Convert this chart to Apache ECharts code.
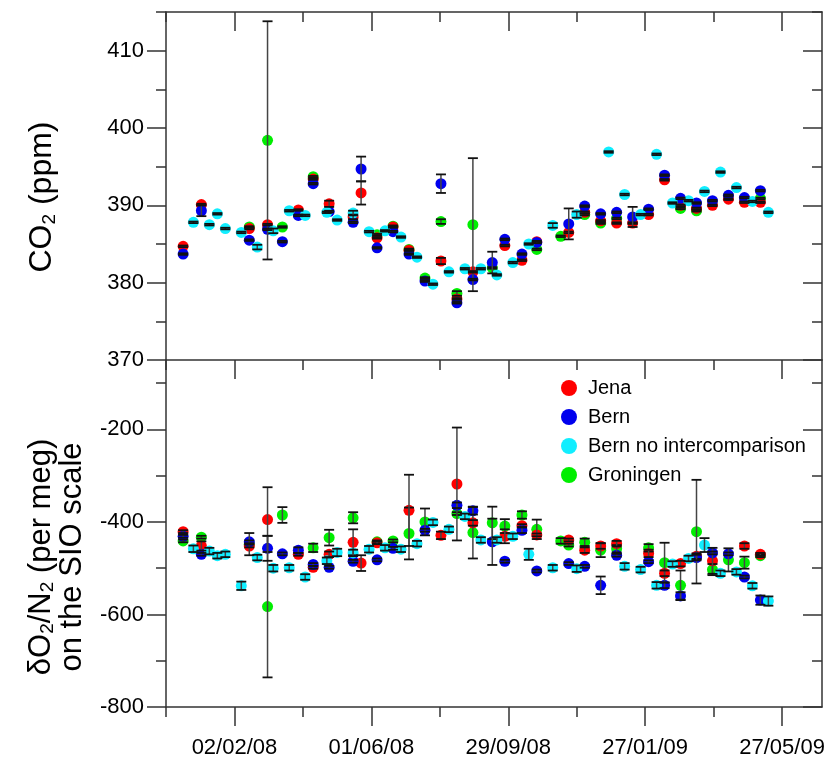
<!DOCTYPE html>
<html>
<head>
<meta charset="utf-8">
<title>CO2 and dO2/N2</title>
<script src="https://cdn.jsdelivr.net/npm/echarts@6/dist/echarts.min.js"></script>
<style>
  html, body { margin: 0; padding: 0; background: #fff; }
  #chart { width: 829px; height: 760px; }
</style>
</head>
<body>
<div id="chart"></div>
<script>
// rows are [day, value, error]; day = days since 04/12/2007
var jenaCO2 = [[15,384.7,0.1],[31,390.1,0.1],[73,387.0,0.1],[89,387.5,0.1],[116,389.4,0.1],[129,393.4,0.1],[143,390.2,0.4],[164,388.5,0.3],[171,391.6,1.5],[185,385.8,0.1],[199,387.2,0.1],[213,384.2,0.1],[241,382.8,0.4],[255,377.9,0.1],[269,381.4,0.1],[297,384.8,0.1],[312,382.9,0.1],[325,385.3,0.1],[353,386.5,0.1],[367,389.1,0.1],[381,388.0,0.1],[395,387.7,0.1],[409,387.7,0.1],[423,388.8,0.1],[437,393.3,0.1],[451,390.0,0.1],[465,389.6,0.1],[479,390.0,0.1],[493,390.8,0.1],[507,390.4,0.1],[521,390.4,0.1]];
var bernCO2 = [[15,383.7,0.1],[31,389.3,0.7],[73,385.5,0.1],[89,386.9,0.1],[102,385.3,0.1],[116,388.7,0.1],[129,392.8,0.1],[143,389.2,0.1],[164,387.8,0.1],[171,394.7,1.6],[185,384.5,0.1],[199,386.6,0.1],[213,383.7,0.1],[227,380.2,0.1],[241,392.8,1.2],[255,377.4,0.1],[269,380.4,0.1],[286,382.6,1.4],[297,385.6,0.1],[312,383.7,0.1],[325,385.2,0.1],[353,387.6,2.0],[367,389.9,0.1],[381,388.9,0.1],[395,389.1,0.1],[409,388.5,1.3],[423,389.5,0.1],[437,393.9,0.1],[451,390.9,0.1],[465,390.3,0.1],[479,390.6,0.1],[493,391.3,0.1],[507,391.0,0.1],[521,391.9,0.1]];
var bernNoCO2 = [[24,387.8,0.1],[38,387.5,0.1],[45,388.9,0.1],[52,387.0,0.1],[66,386.5,0.1],[80,384.6,0.3],[94,386.7,0.3],[108,389.3,0.1],[122,388.7,0.1],[141,389.1,0.1],[150,388.1,0.1],[164,389.0,0.3],[178,386.6,0.1],[192,386.7,0.1],[206,385.9,0.1],[220,383.3,0.1],[234,379.8,0.1],[248,381.4,0.1],[262,381.8,0.1],[276,381.8,0.1],[290,381.0,0.1],[304,382.6,0.1],[318,385.0,0.1],[339,387.4,0.3],[360,388.8,0.4],[388,396.9,0.1],[402,391.4,0.1],[416,388.8,0.1],[430,396.6,0.1],[444,390.3,0.1],[458,390.6,0.1],[472,391.8,0.1],[486,394.3,0.1],[500,392.3,0.1],[514,390.5,0.1],[528,389.1,0.1]];
var groCO2 = [[73,387.2,0.1],[89,398.4,15.4],[102,387.2,0.1],[129,393.7,0.1],[185,386.2,0.1],[199,387.3,0.1],[213,384.3,0.1],[227,380.6,0.1],[241,387.9,0.3],[255,378.6,0.3],[269,387.5,8.6],[286,381.9,0.1],[325,384.3,0.1],[346,386.0,0.1],[367,388.8,0.1],[381,387.7,0.1],[395,388.3,0.1],[451,389.6,0.1],[465,389.3,0.1],[521,390.9,0.1]];

var jenaO2 = [[15,-421,3],[31,-452,10],[73,-452,3],[89,-395,70],[116,-470,3],[129,-498,3],[143,-470,6],[164,-444,28],[171,-489,17],[185,-445,3],[213,-375,77],[241,-429,8],[255,-318,122],[269,-402,6],[297,-431,15],[312,-408,3],[325,-428,3],[353,-439,3],[367,-461,6],[381,-452,6],[395,-447,6],[423,-468,8],[437,-511,6],[451,-490,6],[465,-474,6],[479,-484,28],[507,-452,6],[521,-470,3]];
var bernO2 = [[15,-431,3],[31,-470,3],[73,-443,3],[89,-457,27],[102,-469,3],[116,-461,6],[129,-492,3],[143,-498,3],[164,-485,3],[185,-482,3],[199,-457,3],[227,-418,3],[255,-364,6],[269,-376,8],[286,-443,50],[297,-485,3],[312,-418,6],[325,-506,3],[353,-490,3],[367,-496,3],[381,-537,19],[395,-472,3],[423,-486,3],[437,-537,6],[451,-560,8],[465,-477,6],[479,-467,3],[493,-469,3],[507,-519,3],[521,-569,10]];
var bernNoO2 = [[24,-458,7],[38,-463,7],[45,-473,6],[52,-470,6],[66,-538,9],[80,-477,6],[94,-500,7],[108,-499,6],[122,-519,6],[141,-484,7],[150,-466,8],[164,-467,7],[178,-459,7],[192,-456,6],[206,-459,6],[220,-447,6],[234,-401,6],[248,-416,6],[262,-388,6],[276,-439,6],[290,-439,6],[304,-431,6],[318,-470,12],[339,-499,6],[360,-501,7],[402,-496,7],[416,-503,6],[430,-537,7],[444,-491,6],[458,-479,6],[472,-450,15],[486,-511,6],[500,-508,6],[514,-538,6],[528,-571,10]];
var groO2 = [[15,-441,3],[31,-433,3],[73,-448,24],[89,-583,153],[102,-385,17],[129,-456,9],[143,-434,17],[164,-391,12],[185,-443,3],[199,-441,3],[213,-425,56],[227,-400,29],[255,-382,3],[269,-423,56],[286,-402,35],[297,-409,15],[312,-385,8],[325,-416,21],[346,-441,6],[353,-450,3],[367,-444,8],[381,-461,15],[395,-458,8],[423,-456,8],[437,-488,43],[451,-537,32],[465,-421,112],[479,-503,12],[493,-482,25],[507,-488,13],[521,-473,3]];

var dayMajor = [60, 180, 300, 420, 540];   // 02/02/08 ... 27/05/09
var dayMinor = [0, 120, 240, 360, 480];
var co2Major = [370, 380, 390, 400, 410];
var co2Minor = [375, 385, 395, 405, 415];
var o2Major = [-800, -600, -400, -200];
var o2Minor = [-700, -500, -300, -100];

var FONT = 'Liberation Sans, Arial, sans-serif';
var INK = '#333';

function dayLabel(d) {
  var t = new Date(Date.UTC(2007, 11, 4) + d * 86400000);
  var p = function (n) { return ('0' + n).slice(-2); };
  return p(t.getUTCDate()) + '/' + p(t.getUTCMonth() + 1) + '/' + p(t.getUTCFullYear() % 100);
}

function xAx(gi, pos, ticks, len, inside, line, labels) {
  return {
    type: 'value', gridIndex: gi, position: pos, min: 0, max: 575,
    axisLine: { show: line, onZero: false, lineStyle: { color: INK, width: 1.5 } },
    axisTick: { show: true, inside: inside, length: len, customValues: ticks, lineStyle: { color: INK, width: 1.5 } },
    axisLabel: labels ? { show: true, customValues: ticks, formatter: dayLabel, margin: 30, color: '#000', fontSize: 22, fontFamily: FONT } : { show: false },
    splitLine: { show: false }
  };
}

function yAx(gi, pos, mn, mx, ticks, len, inside, line, labels) {
  return {
    type: 'value', gridIndex: gi, position: pos, min: mn, max: mx,
    axisLine: { show: line, onZero: false, lineStyle: { color: INK, width: 1.5 } },
    axisTick: { show: true, inside: inside, length: len, customValues: ticks, lineStyle: { color: INK, width: 1.5 } },
    axisLabel: labels ? { show: true, customValues: ticks, margin: 22, color: '#000', fontSize: 22, fontFamily: FONT } : { show: false },
    splitLine: { show: false }
  };
}

function errorBars(params, api) {
  var x = api.value(0), y = api.value(1), e = api.value(2);
  var hi = api.coord([x, y + e]);
  var lo = api.coord([x, y - e]);
  var hw = 5;
  return {
    type: 'group',
    children: [
      { type: 'line', shape: { x1: hi[0], y1: hi[1], x2: lo[0], y2: lo[1] }, style: { stroke: '#444', lineWidth: 1.5 } },
      { type: 'line', shape: { x1: hi[0] - hw, y1: hi[1], x2: hi[0] + hw, y2: hi[1] }, style: { stroke: '#111', lineWidth: 1.8 } },
      { type: 'line', shape: { x1: lo[0] - hw, y1: lo[1], x2: lo[0] + hw, y2: lo[1] }, style: { stroke: '#111', lineWidth: 1.8 } }
    ]
  };
}

var labs = [
  { name: 'Groningen', color: '#00ee00', co2: groCO2, o2: groO2 },
  { name: 'Jena', color: '#ff0000', co2: jenaCO2, o2: jenaO2 },
  { name: 'Bern', color: '#0000ee', co2: bernCO2, o2: bernO2 },
  { name: 'Bern no intercomparison', color: '#11eeff', co2: bernNoCO2, o2: bernNoO2 }
];

var series = [];
[['co2', 0, 0], ['o2', 4, 4]].forEach(function (p) {
  var all = [];
  labs.forEach(function (lab) {
    series.push({
      type: 'scatter', name: lab.name, xAxisIndex: p[1], yAxisIndex: p[2],
      symbol: 'circle', symbolSize: 11, itemStyle: { color: lab.color, opacity: 1 },
      data: lab[p[0]].map(function (r) { return [r[0], r[1]]; }), z: 2
    });
    all = all.concat(lab[p[0]]);
  });
  series.push({
    type: 'custom', xAxisIndex: p[1], yAxisIndex: p[2], renderItem: errorBars,
    dimensions: ['day', 'value', 'err'], encode: { x: 0, y: 1 }, data: all, z: 3, silent: true
  });
});

var chart = echarts.init(document.getElementById('chart'));
chart.setOption({
  backgroundColor: '#fff',
  animation: false,
  grid: [
    { left: 166, top: 12, width: 656, height: 348 },
    { left: 166, top: 360, width: 656, height: 347 }
  ],
  xAxis: [
    xAx(0, 'top', dayMajor, 19, true, true, false),
    xAx(0, 'top', dayMinor, 10, true, false, false),
    xAx(1, 'top', dayMajor, 19, true, true, false),
    xAx(1, 'top', dayMinor, 10, true, false, false),
    xAx(1, 'bottom', dayMajor, 19, false, true, true),
    xAx(1, 'bottom', dayMinor, 10, false, false, false)
  ],
  yAxis: [
    yAx(0, 'left', 370, 415, co2Major, 19, false, true, true),
    yAx(0, 'left', 370, 415, co2Minor, 10, false, false, false),
    yAx(0, 'right', 370, 415, co2Major, 19, true, true, false),
    yAx(0, 'right', 370, 415, co2Minor, 10, true, false, false),
    yAx(1, 'left', -800, -50, o2Major, 19, false, true, true),
    yAx(1, 'left', -800, -50, o2Minor, 10, false, false, false),
    yAx(1, 'right', -800, -50, o2Major, 19, true, true, false),
    yAx(1, 'right', -800, -50, o2Minor, 10, true, false, false)
  ],
  legend: {
    data: ['Jena', 'Bern', 'Bern no intercomparison', 'Groningen'],
    orient: 'vertical', left: 556, top: 373, itemWidth: 28, itemHeight: 16, itemGap: 9,
    icon: 'circle', selectedMode: false,
    textStyle: { fontSize: 20, fontFamily: FONT, color: '#000' }
  },
  graphic: [
    {
      type: 'text', x: 42, y: 197, rotation: Math.PI / 2,
      style: {
        text: '{a|CO}{s|2}{a| (ppm)}', align: 'center', verticalAlign: 'middle',
        rich: {
          a: { fontSize: 32, lineHeight: 34, fontFamily: FONT, fill: '#000' },
          s: { fontSize: 19, lineHeight: 15, verticalAlign: 'bottom', fontFamily: FONT, fill: '#000' }
        }
      }
    },
    {
      type: 'text', x: 57, y: 557, rotation: Math.PI / 2,
      style: {
        text: '{a|\u03b4O}{s|2}{a|/N}{s|2}{a| (per meg)}\n{a|on the SIO scale}', align: 'center', verticalAlign: 'middle',
        rich: {
          a: { fontSize: 31, lineHeight: 31, fontFamily: FONT, fill: '#000', align: 'center' },
          s: { fontSize: 19, lineHeight: 14, verticalAlign: 'bottom', fontFamily: FONT, fill: '#000' }
        }
      }
    }
  ],
  series: series
});
</script>
</body>
</html>
